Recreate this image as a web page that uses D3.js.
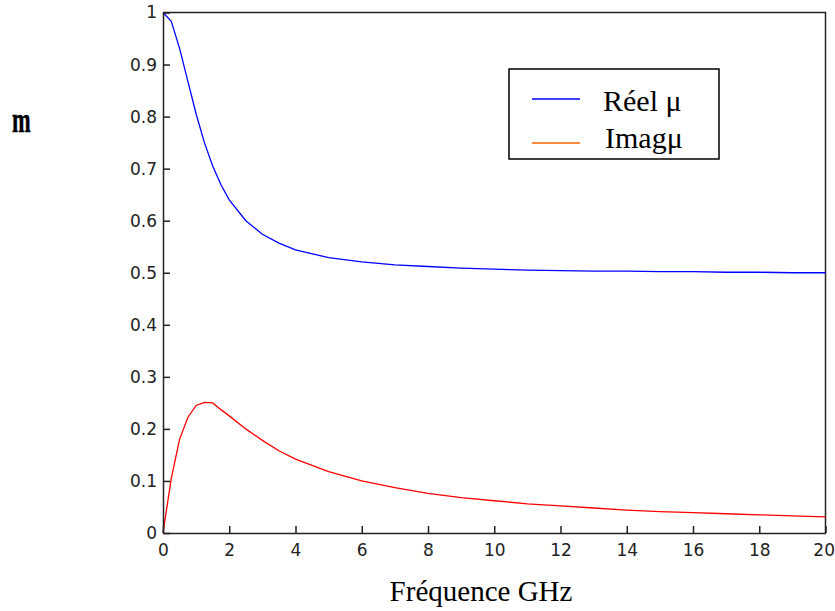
<!DOCTYPE html>
<head>
  <meta charset="utf-8">
  <script src="https://d3js.org/d3.v7.min.js"></script>
  <style type="text/css">
    body { margin: 0; background: #fff; }
    svg { display: block; }
    .axis text { font-family: "DejaVu Sans", sans-serif; font-size: 17px; fill: #222; }
    .axis path, .axis line { stroke: #222; stroke-width: 1.5; }
    .serif { font-family: "Liberation Serif", "Times New Roman", serif; fill: #000; }
  </style>
</head>

<body>
  <script type="text/javascript">
    // values
    var freq  = [0, 0.25, 0.5, 0.75, 1, 1.25, 1.5, 1.75, 2, 2.5, 3, 3.5, 4, 5, 6, 7, 8, 9, 10, 11, 12, 13, 14, 15, 16, 17, 18, 19, 20];
    var reel  = [1, 0.983, 0.931, 0.868, 0.805, 0.75, 0.705, 0.669, 0.640, 0.600, 0.574, 0.557, 0.544, 0.529, 0.521, 0.515, 0.512, 0.509, 0.507, 0.505, 0.504, 0.503, 0.503, 0.502, 0.502, 0.501, 0.501, 0.500, 0.500];
    var imag  = [0, 0.105, 0.18, 0.222, 0.245, 0.251, 0.250, 0.237, 0.225, 0.200, 0.178, 0.158, 0.142, 0.118, 0.100, 0.087, 0.076, 0.068, 0.062, 0.056, 0.052, 0.048, 0.044, 0.041, 0.039, 0.037, 0.035, 0.033, 0.031];
    var xTicks = [0, 2, 4, 6, 8, 10, 12, 14, 16, 18, 20];
    var yTicks = [0, 0.1, 0.2, 0.3, 0.4, 0.5, 0.6, 0.7, 0.8, 0.9, 1];
    var series = [
      { name: "Réel μ", values: reel, color: "#0000ff", legendColor: "#0000ff" },
      { name: "Imagμ", values: imag, color: "#ff0000", legendColor: "#ff6600" }
    ];

    var W = 835, H = 611;
    var margin = { top: 12.5, right: 9.5, bottom: 78, left: 163 },
        width = W - margin.left - margin.right,
        height = H - margin.top - margin.bottom;

    var svg = d3.select("body").append("svg")
        .attr("width", W)
        .attr("height", H);

    var g = svg.append("g")
        .attr("transform", "translate(" + [margin.left, margin.top] + ")");

    var xScale = d3.scaleLinear().domain([0, 20]).range([0, width]);
    var yScale = d3.scaleLinear().domain([0, 1]).range([height, 0]);

    // box (top and right, no ticks)
    g.append("path")
      .attr("d", "M0,0H" + width + "V" + height)
      .attr("fill", "none")
      .attr("stroke", "#222")
      .attr("stroke-width", 1.5);

    var line = d3.line()
      .x(function(d, i) { return xScale(freq[i]); })
      .y(function(d) { return yScale(d); });

    g.selectAll(".curve")
      .data(series)
      .enter().append("path")
      .attr("class", "curve")
      .attr("fill", "none")
      .attr("stroke", function(d) { return d.color; })
      .attr("stroke-width", 1.3)
      .attr("d", function(d) { return line(d.values); });

    g.append("g")
      .attr("class", "axis")
      .call(d3.axisLeft(yScale).tickValues(yTicks).tickSizeInner(-7).tickSizeOuter(0).tickPadding(6)
        .tickFormat(function(d) { return d === 0 || d === 1 ? d : d3.format(".1f")(d); }));

    var xAxis = g.append("g")
      .attr("class", "axis")
      .attr("transform", "translate(0," + height + ")")
      .call(d3.axisBottom(xScale).tickValues(xTicks).tickSizeInner(-7).tickSizeOuter(0).tickPadding(11)
        .tickFormat(d3.format("d")));

    // last label sits on the window edge: keep it inside
    xAxis.selectAll(".tick text")
      .filter(function(d) { return d === 20; })
      .attr("text-anchor", "end")
      .attr("x", 9);

    // x title
    svg.append("text")
      .attr("class", "serif")
      .attr("x", 481)
      .attr("y", 601)
      .attr("text-anchor", "middle")
      .style("font-size", "29px")
      .text("Fréquence GHz");

    // y label
    svg.append("text")
      .attr("class", "serif")
      .attr("transform", "translate(12,131.5) scale(0.8,1.3)")
      .style("font-size", "28px")
      .style("font-weight", "bold")
      .style("stroke", "#000")
      .style("stroke-width", 0.4)
      .text("m");

    // legend
    var legend = svg.append("g").attr("transform", "translate(509,69)");
    legend.append("rect")
      .attr("width", 210)
      .attr("height", 90)
      .attr("fill", "#fff")
      .attr("stroke", "#000")
      .attr("stroke-width", 1.5);

    var item = legend.selectAll(".item")
      .data(series)
      .enter().append("g")
      .attr("class", "item")
      .attr("transform", function(d, i) { return "translate(0," + (30 + i * 44) + ")"; });

    item.append("line")
      .attr("x1", 23).attr("x2", 71)
      .attr("stroke", function(d) { return d.legendColor; })
      .attr("stroke-width", 1.5);

    item.append("text")
      .attr("class", "serif")
      .attr("x", function(d, i) { return i === 0 ? 94 : 96; })
      .attr("y", function(d, i) { return i === 0 ? 12 : 4.5; })
      .style("font-size", "30px")
      .text(function(d) { return d.name; });
  </script>
</body>
